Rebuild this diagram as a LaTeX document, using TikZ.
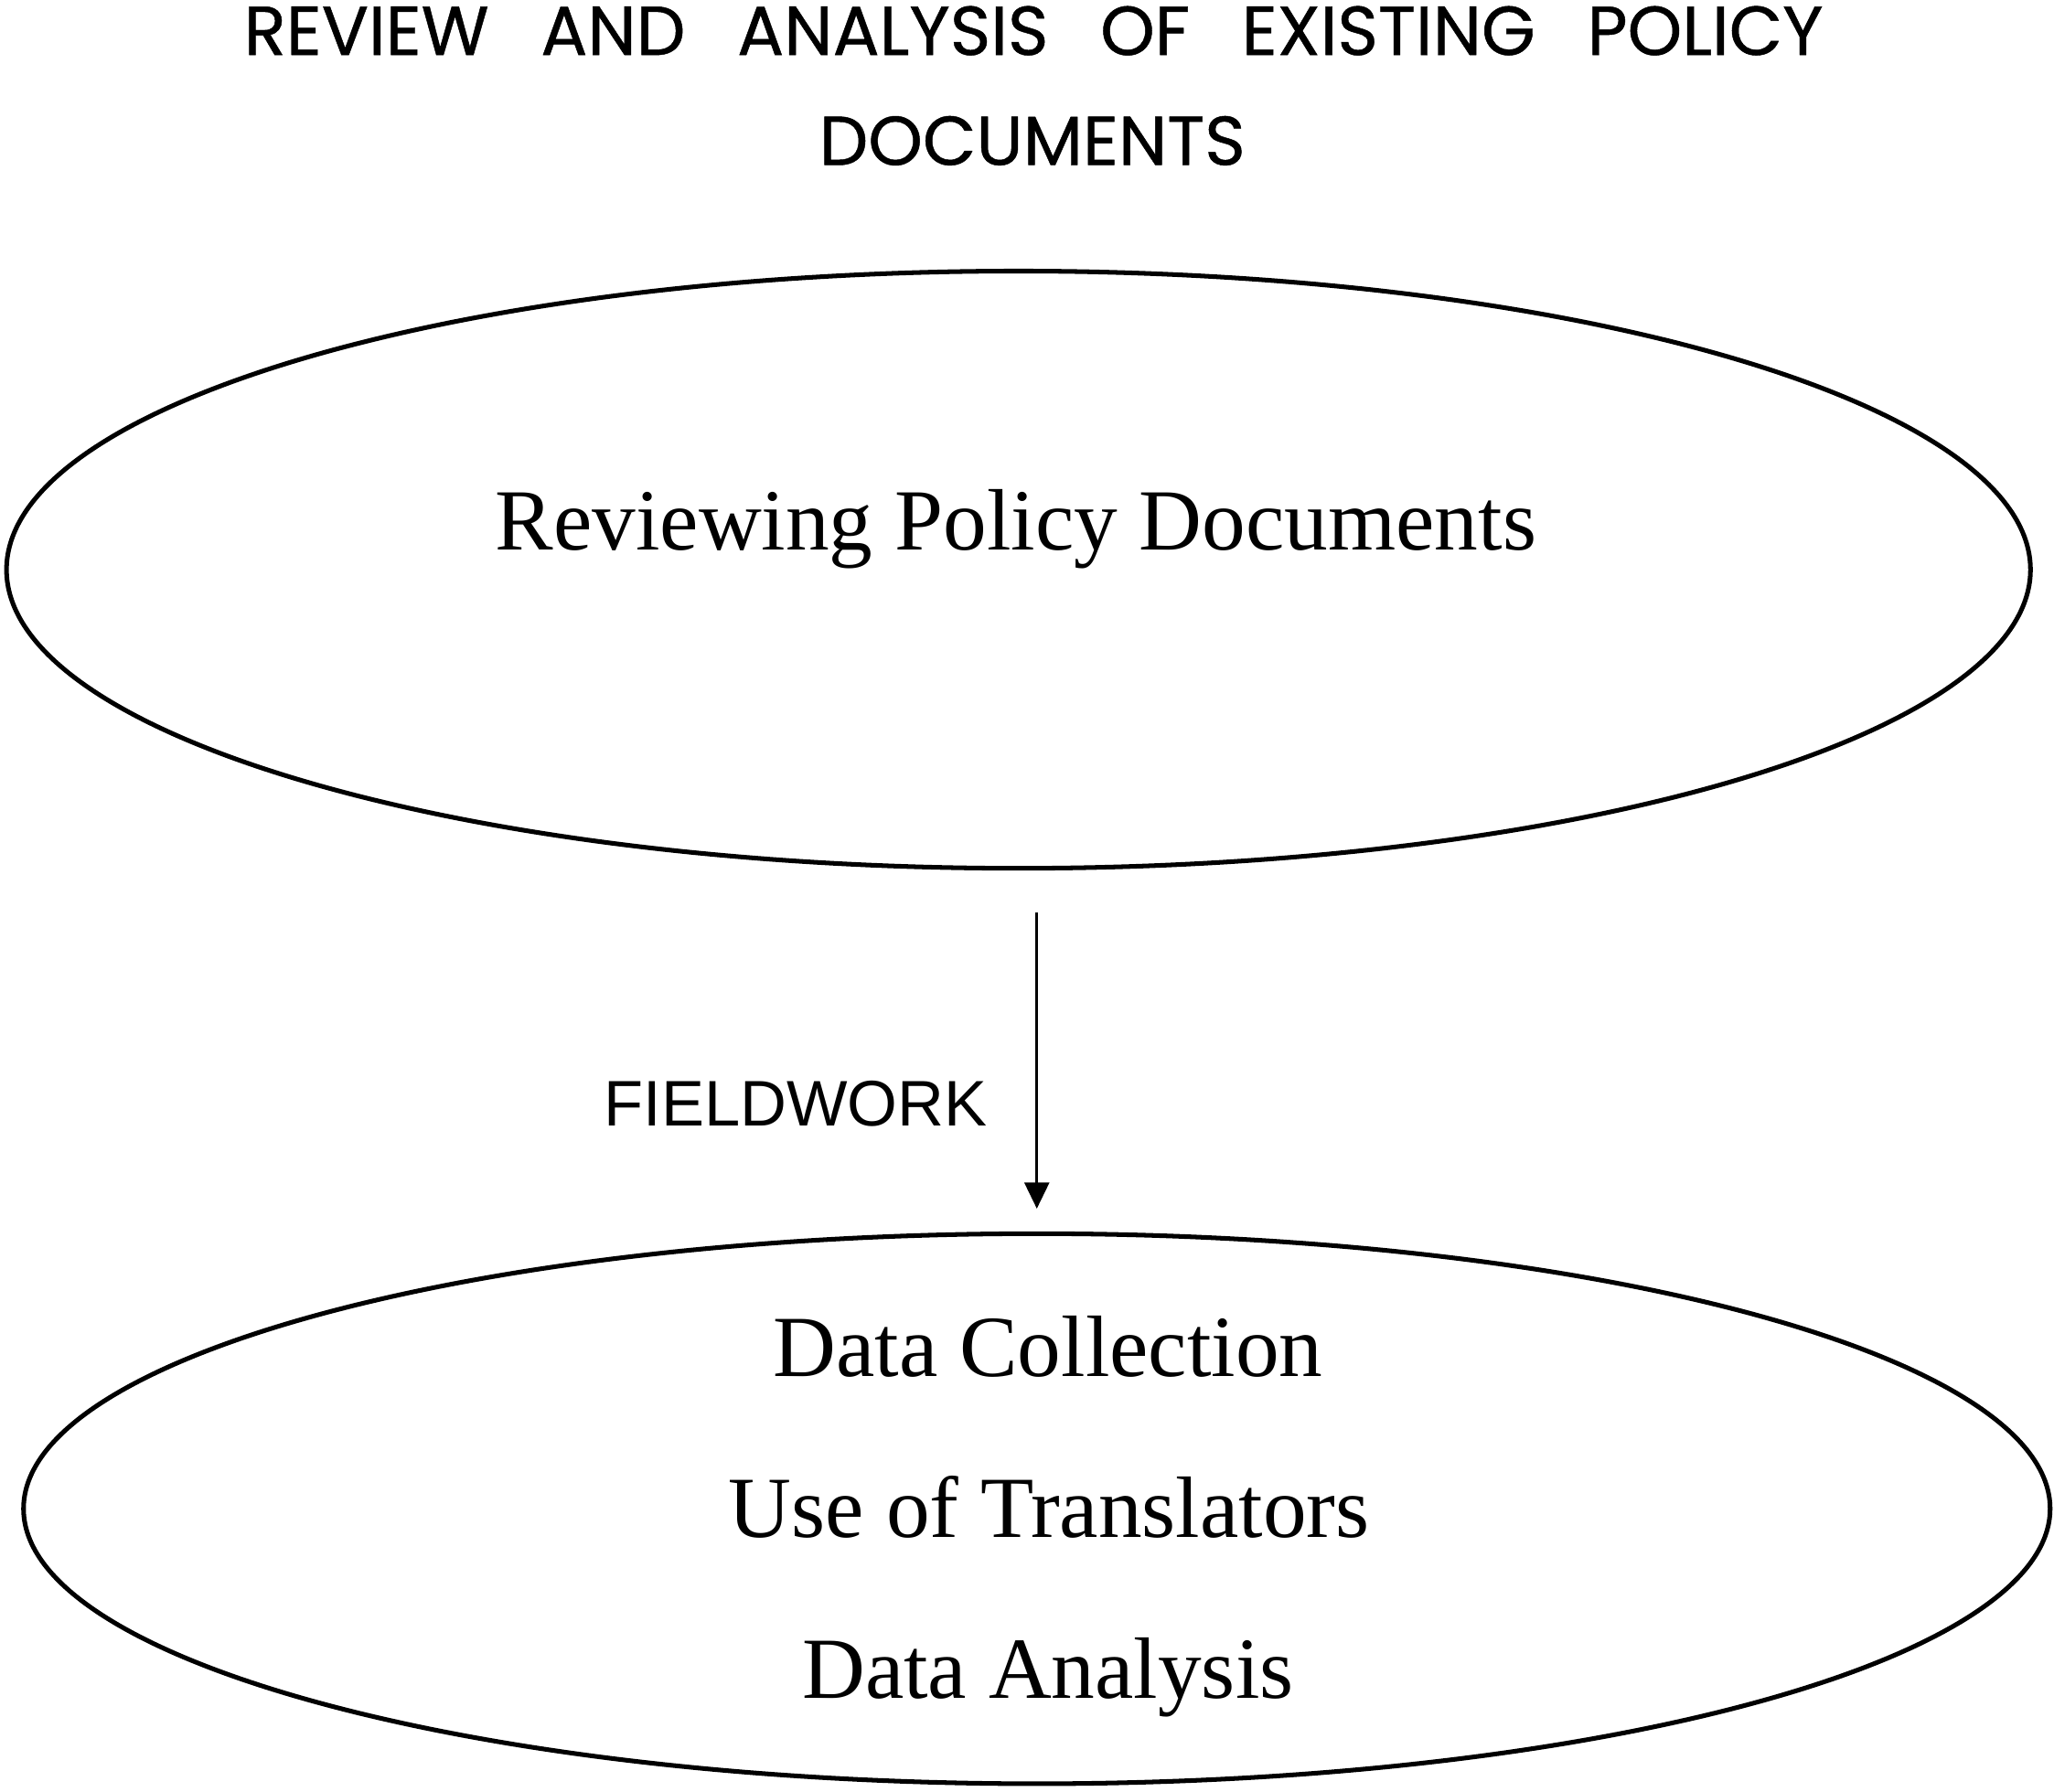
\documentclass[tikz,border=0pt]{standalone}
\usepackage{fontspec}
\setmainfont{Liberation Serif}
\newfontfamily\titlefont[WordSpace=2.8,FakeBold=0.6]{Poppins}
\newfontfamily\labelfont{Liberation Sans}
\usetikzlibrary{shapes.geometric,arrows.meta,positioning}

\begin{document}
\begin{tikzpicture}[x=0.015cm,y=-0.015cm,
  phase/.style={draw,ellipse,line width=1.5pt,inner sep=0pt},
  item/.style={anchor=base,font=\fontsize{28.4}{34}\selectfont},
  heading/.style={anchor=base,font=\titlefont\fontsize{22.6}{27}\selectfont}]
\useasboundingbox (0,0) rectangle (1568,1368);
\node[heading] (title1) at (789,42) {REVIEW AND ANALYSIS OF EXISTING POLICY};
\node[heading] (title2) at (788,126) {DOCUMENTS};
\node[phase,minimum width=23.175cm,minimum height=6.84cm] (review) at (777.5,435) {};
\node[item] (reviewing) at (775.5,420) {Reviewing Policy Documents};
\node[phase,minimum width=23.205cm,minimum height=6.3cm] (work) at (791.5,1152) {};
\node[item] (collection) at (800,1051) {Data Collection};
\node[item] (translators) at (801,1174) {Use of Translators};
\node[item] (analysis) at (800,1297) {Data Analysis};
\draw[-{Triangle[width=8pt,length=8.5pt]},line width=0.9pt,shorten <=0.48cm,shorten >=0.26cm]
  (review.south -| work.north) -- (work.north);
\node[anchor=base,font=\labelfont\fontsize{21}{25}\selectfont] (fieldwork) at (607.5,860) {FIELDWORK};
\end{tikzpicture}
\end{document}
